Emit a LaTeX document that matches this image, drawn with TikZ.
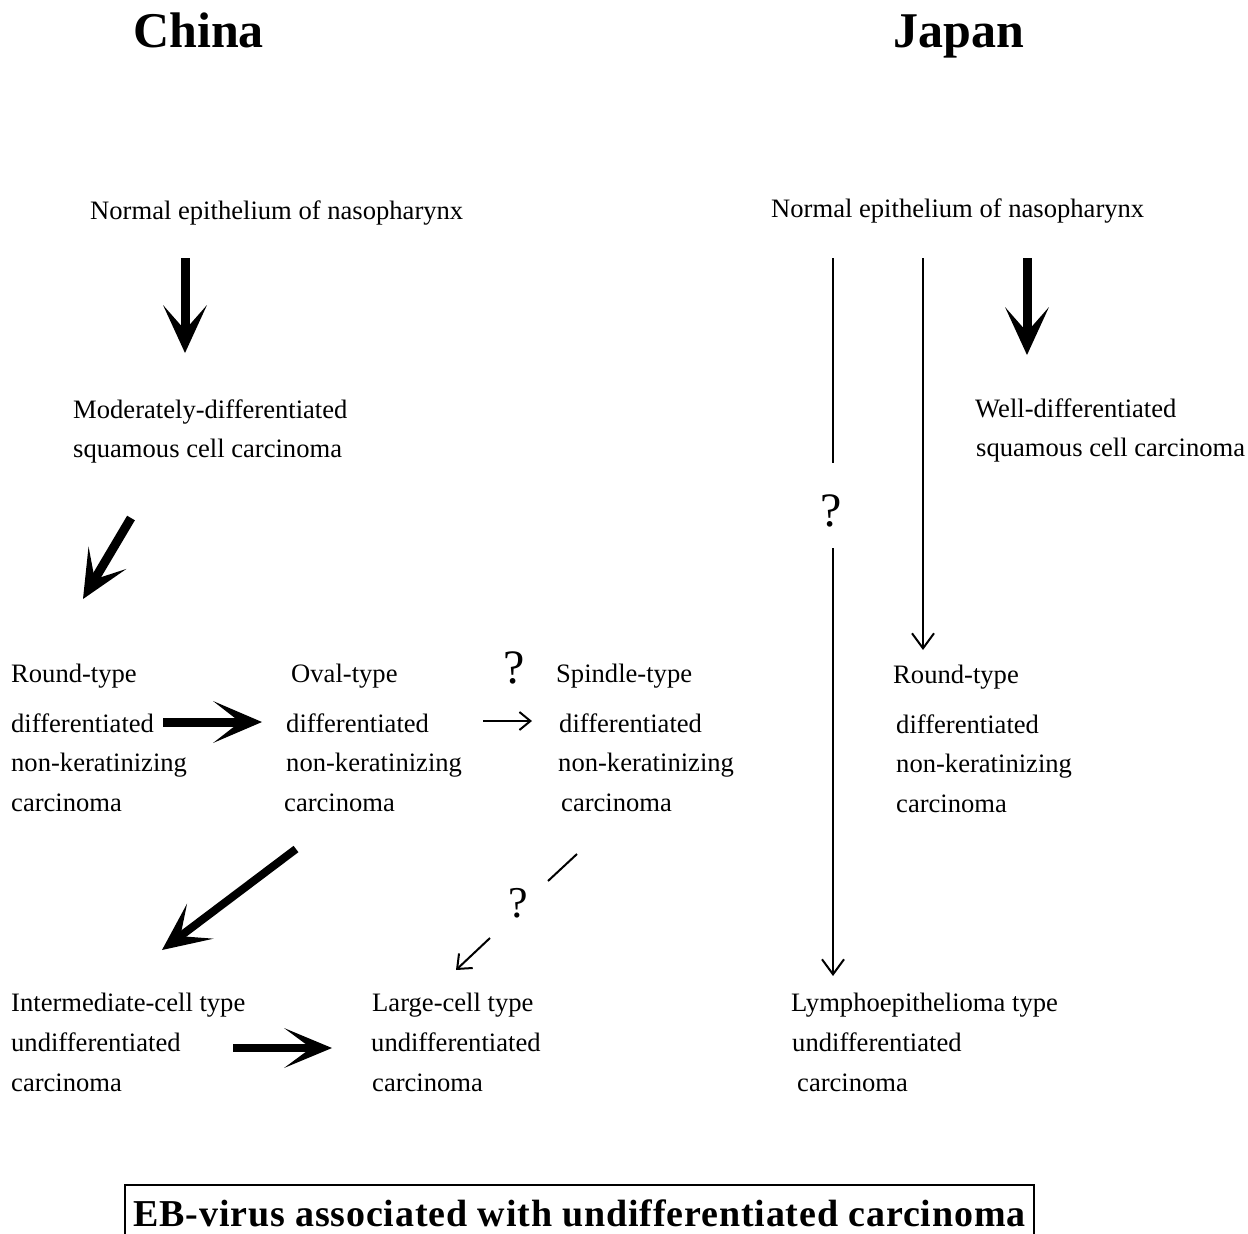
\documentclass[tikz,border=0pt]{standalone}
\usepackage{fontspec}
\setmainfont{Liberation Serif}
\usetikzlibrary{arrows.meta}
\begin{document}
\begin{tikzpicture}[x=1pt,y=-1pt,
  txt/.style={anchor=base west, inner sep=0pt, font=\fontsize{26.6}{30}\selectfont},
  ttl/.style={anchor=base west, inner sep=0pt, font=\bfseries\fontsize{50}{56}\selectfont},
  qm/.style={anchor=base, inner sep=0pt, font=\fontsize{48}{52}\selectfont},
  bigarrow/.style={line width=9pt, -{Stealth[length=48pt,width=44pt,inset=25pt,line width=0pt]}},
  thinarrow/.style={line width=2pt, -{Straight Barb[length=15pt,width=22pt]}},
  thinline/.style={line width=2pt}
]
\useasboundingbox (0,0) rectangle (1248,1234);

% titles
\node[ttl] (china) at (133,47) {China};
\node[ttl] (japan) at (893,47) {Japan};

% China column
\node[txt] (normC) at (90,219) {Normal epithelium of nasopharynx};
\node[txt] (modC1) at (73,418) {Moderately-differentiated};
\node[txt] (modC2) at (73,457) {squamous cell carcinoma};

\node[txt] (rnd1) at (11,682) {Round-type};
\node[txt] (rnd2) at (11,732) {differentiated};
\node[txt] (rnd3) at (11,771) {non-keratinizing};
\node[txt] (rnd4) at (11,811) {carcinoma};

\node[txt] (ova1) at (291,682) {Oval-type};
\node[txt] (ova2) at (286,732) {differentiated};
\node[txt] (ova3) at (286,771) {non-keratinizing};
\node[txt] (ova4) at (284,811) {carcinoma};

\node[qm] (q1) at (514,683) {?};
\node[txt] (spi1) at (556,682) {Spindle-type};
\node[txt] (spi2) at (559,732) {differentiated};
\node[txt] (spi3) at (558,771) {non-keratinizing};
\node[txt] (spi4) at (561,811) {carcinoma};

\node[txt] (int1) at (11,1011) {Intermediate-cell type};
\node[txt] (int2) at (11,1051) {undifferentiated};
\node[txt] (int3) at (11,1091) {carcinoma};

\node[txt] (lar1) at (372,1011) {Large-cell type};
\node[txt] (lar2) at (371,1051) {undifferentiated};
\node[txt] (lar3) at (372,1091) {carcinoma};

\node[qm, font=\fontsize{44}{48}\selectfont] (q3) at (518,917) {?};

% Japan column
\node[txt] (normJ) at (771,217) {Normal epithelium of nasopharynx};
\node[txt] (well1) at (975,417) {Well-differentiated};
\node[txt] (well2) at (976,456) {squamous cell carcinoma};
\node[qm] (q2) at (831,526) {?};

\node[txt] (jr1) at (893,683) {Round-type};
\node[txt] (jr2) at (896,733) {differentiated};
\node[txt] (jr3) at (896,772) {non-keratinizing};
\node[txt] (jr4) at (896,812) {carcinoma};

\node[txt] (lym1) at (791,1011) {Lymphoepithelioma type};
\node[txt] (lym2) at (792,1051) {undifferentiated};
\node[txt] (lym3) at (797,1091) {carcinoma};

% bottom box
\node[draw, line width=1.6pt, inner xsep=0pt, inner ysep=13.5pt,
      minimum width=909pt, text height=28pt, text depth=10pt,
      font=\addfontfeatures{LetterSpace=2.2}\bfseries\fontsize{38}{44}\selectfont] (eb) at (579.5,1217.5)
      {EB-virus associated with undifferentiated carcinoma};

% arrow coordinates
\coordinate (a1s) at (185,258);  \coordinate (a1e) at (185,353);
\coordinate (a2s) at (131,518);  \coordinate (a2e) at (83,599);
\coordinate (a3s) at (163,722);  \coordinate (a3e) at (262,722);
\coordinate (a4s) at (483,721);  \coordinate (a4e) at (532,721);
\coordinate (a5s) at (296,849);  \coordinate (a5e) at (162,950);
\coordinate (a6s) at (577,854);  \coordinate (a6e) at (548,881);
\coordinate (a7s) at (490,938);  \coordinate (a7e) at (456,970);
\coordinate (a8s) at (233,1048); \coordinate (a8e) at (332,1048);
\coordinate (j1s) at (833,258);  \coordinate (j1e) at (833,463);
\coordinate (j2s) at (833,548);  \coordinate (j2e) at (833,976);
\coordinate (j3s) at (923,258);  \coordinate (j3e) at (923,650);
\coordinate (j4s) at (1027,258); \coordinate (j4e) at (1027,355);

% arrows
\draw[bigarrow] (a1s) -- (a1e);
\draw[bigarrow] (a2s) -- (a2e);
\draw[line width=9pt, -{Stealth[length=49pt,width=42pt,inset=27pt,line width=0pt]}] (a3s) -- (a3e);
\draw[line width=2pt, -{Straight Barb[length=11pt,width=18pt]}] (a4s) -- (a4e);
\draw[bigarrow, line width=8pt] (a5s) -- (a5e);
\draw[thinline] (a6s) -- (a6e);
\draw[line width=2pt, -{Straight Barb[length=12pt,width=20pt]}] (a7s) -- (a7e);
\draw[line width=8pt, -{Stealth[length=48pt,width=40pt,inset=27pt,line width=0pt]}] (a8s) -- (a8e);
\draw[thinline] (j1s) -- (j1e);
\draw[thinarrow] (j2s) -- (j2e);
\draw[thinarrow] (j3s) -- (j3e);
\draw[bigarrow] (j4s) -- (j4e);
\end{tikzpicture}
\end{document}
